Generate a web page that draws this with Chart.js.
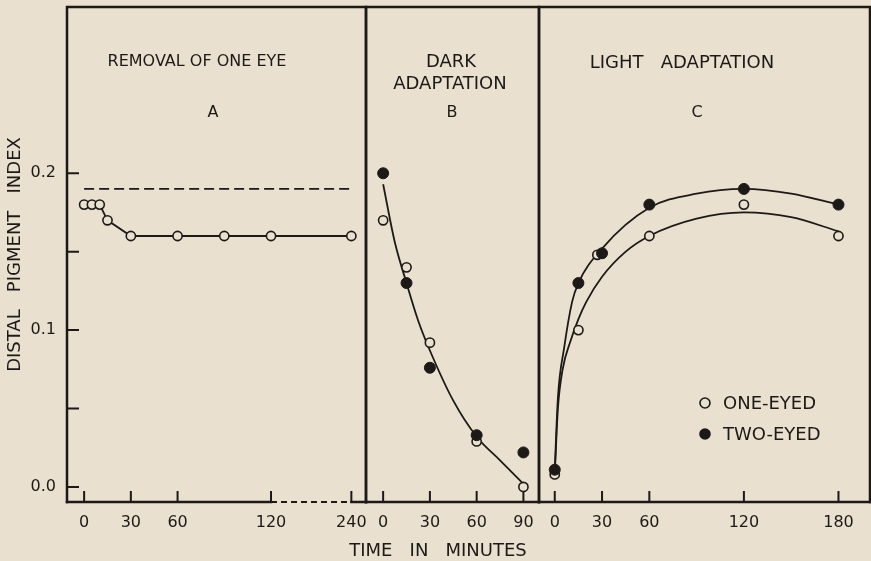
<!DOCTYPE html>
<html>
<head>
<meta charset="utf-8">
<script src="https://cdn.jsdelivr.net/npm/chart.js@4.4.0/dist/chart.umd.min.js"></script>
<style>
body { margin: 0; background: #e9e0cf; }
#wrap { position: relative; width: 871px; height: 561px; }
#wrap canvas { position: absolute; left: 0; top: 0; }
</style>
</head>
<body>
<div id="wrap">
  <canvas id="chartA" width="871" height="561"></canvas>
  <canvas id="chartB" width="871" height="561"></canvas>
  <canvas id="chartC" width="871" height="561"></canvas>
</div>
<script>
// panel A - removal of one eye (time axis is broken between 120 and 240)
var timeA = [0, 5, 10, 15, 30, 60, 90, 120, 240];
var oneEyedA = [0.18, 0.18, 0.18, 0.17, 0.16, 0.16, 0.16, 0.16, 0.16];
var normalTimeA = [0, 240];
var normalLevelA = [0.19, 0.19];
var xTicksA = [0, 30, 60, 120, 240];

// panel B - dark adaptation
var timeB = [0, 15, 30, 60, 90];
var oneEyedB = [0.17, 0.14, 0.092, 0.029, 0.0];
var twoEyedB = [0.2, 0.13, 0.076, 0.033, 0.022];
var curveTimeB = [0, 7.5, 15, 22.5, 30, 45, 60, 75, 90];
var curveB = [0.193, 0.156, 0.13, 0.106, 0.087, 0.055, 0.032, 0.017, 0.002];
var xTicksB = [0, 30, 60, 90];

// panel C - light adaptation
var timeOneC = [0, 15, 27, 60, 120, 180];
var oneEyedC = [0.008, 0.10, 0.148, 0.16, 0.18, 0.16];
var timeTwoC = [0, 15, 30, 60, 120, 180];
var twoEyedC = [0.011, 0.13, 0.149, 0.18, 0.19, 0.18];
var curveTimeOneC = [0, 2, 5, 10, 15, 20, 30, 45, 60, 90, 120, 150, 180];
var curveOneC = [0.008, 0.05, 0.075, 0.093, 0.107, 0.118, 0.134, 0.15, 0.16, 0.171, 0.175, 0.172, 0.163];
var curveTimeTwoC = [0, 2, 6, 11, 15, 30, 60, 90, 120, 150, 180];
var curveTwoC = [0.011, 0.057, 0.089, 0.118, 0.13, 0.152, 0.178, 0.187, 0.19, 0.187, 0.18];
var xTicksC = [0, 30, 60, 120, 180];

var yTicks = [0, 0.05, 0.1, 0.15, 0.2];
var yTickLabels = ['0.0', '', '0.1', '', '0.2'];
var legendLabels = ['ONE-EYED', 'TWO-EYED'];

var ink = '#1d1916';
var paper = '#e9e0cf';
var fam = '"DejaVu Sans", sans-serif';
Chart.defaults.font.family = fam;
Chart.defaults.color = ink;

function breakA(t) {
	// 120..240 squeezed after the break
	return t <= 120 ? t : 120 + (t - 120) * 0.43;
}
function pts(xs, ys, fx) {
	return xs.map(function(x, i){ return { x: fx ? fx(x) : x, y: ys[i] }; });
}

function xScale(min, max, ticks, map) {
	return {
		type: 'linear', min: min, max: max,
		afterFit: function(s){ s.height = 59; s.paddingLeft = 0; s.paddingRight = 0; },
		afterBuildTicks: function(s){
			s.ticks = ticks.map(function(v){ return { value: map ? map(v) : v }; });
		},
		grid: { display: false, drawTicks: false },
		border: { display: false },
		ticks: {
			padding: 11, autoSkip: false, maxRotation: 0, color: ink,
			font: { size: 16 },
			callback: function(v, i){ return String(ticks[i]); }
		}
	};
}
function yScale(show) {
	return {
		type: 'linear', min: -0.0096, max: 0.306, display: show,
		afterFit: function(s){ s.width = show ? 67 : 0; s.paddingTop = 0; s.paddingBottom = 0; },
		afterBuildTicks: function(s){
			s.ticks = yTicks.map(function(v){ return { value: v }; });
		},
		grid: { display: false, drawTicks: false },
		border: { display: false },
		ticks: {
			padding: 11, autoSkip: false, color: ink, font: { size: 16 },
			callback: function(v, i){ return yTickLabels[i]; }
		},
		title: {
			display: show, text: 'DISTAL   PIGMENT   INDEX', color: ink,
			font: { size: 18 }, padding: { top: 5, bottom: 0 }
		}
	};
}

// frame of each panel with inward tick marks
var framePlugin = {
	id: 'frame',
	afterDraw: function(chart, args, o) {
		var a = chart.chartArea, ctx = chart.ctx;
		var x = chart.scales.x, y = chart.scales.y;
		ctx.save();
		ctx.strokeStyle = ink;
		ctx.lineWidth = 2.5;
		ctx.lineCap = 'square';
		ctx.beginPath();
		ctx.moveTo(a.left, a.bottom); ctx.lineTo(a.left, a.top);
		ctx.lineTo(a.right, a.top); ctx.lineTo(a.right, a.bottom);
		ctx.stroke();
		var b1 = o.breakFrom != null ? x.getPixelForValue(breakA(o.breakFrom)) : a.right;
		var b2 = o.breakTo != null ? x.getPixelForValue(breakA(o.breakTo)) : a.right;
		ctx.beginPath();
		ctx.moveTo(a.left, a.bottom); ctx.lineTo(b1, a.bottom);
		ctx.moveTo(b2, a.bottom); ctx.lineTo(a.right, a.bottom);
		ctx.stroke();
		if (b2 > b1) {
			ctx.lineCap = 'butt';
			ctx.lineWidth = 2.2;
			ctx.setLineDash([6, 4]);
			ctx.beginPath(); ctx.moveTo(b1, a.bottom); ctx.lineTo(b2, a.bottom); ctx.stroke();
			ctx.setLineDash([]);
		}
		ctx.lineWidth = 2;
		ctx.lineCap = 'butt';
		ctx.beginPath();
		x.ticks.forEach(function(t){
			var px = x.getPixelForValue(t.value);
			ctx.moveTo(px, a.bottom); ctx.lineTo(px, a.bottom - 11);
		});
		if (o.yTicks) {
			y.ticks.forEach(function(t){
				var py = y.getPixelForValue(t.value);
				ctx.moveTo(a.left, py); ctx.lineTo(a.left + 12, py);
			});
		}
		ctx.stroke();
		ctx.restore();
	}
};

// panel headings, axis title and key
var notesPlugin = {
	id: 'notes',
	afterDraw: function(chart, args, o) {
		var ctx = chart.ctx;
		ctx.save();
		ctx.fillStyle = ink;
		ctx.textBaseline = 'middle';
		(o.items || []).forEach(function(it){
			ctx.font = it.size + 'px ' + fam;
			ctx.textAlign = it.align || 'center';
			ctx.fillText(it.text, it.x, it.y);
		});
		(o.keys || []).forEach(function(k, i){
			ctx.beginPath();
			ctx.arc(k.x, k.y, 5, 0, Math.PI * 2);
			ctx.lineWidth = 1.6;
			ctx.strokeStyle = ink;
			ctx.fillStyle = k.filled ? ink : paper;
			ctx.fill(); ctx.stroke();
			ctx.fillStyle = ink;
			ctx.font = '18px ' + fam;
			ctx.textAlign = 'left';
			ctx.fillText(legendLabels[i], k.x + 18, k.y + 1);
		});
		ctx.restore();
	}
};

function openPoints(data, line) {
	return {
		data: data, showLine: line, borderColor: ink, borderWidth: 1.8,
		pointRadius: 4.6, pointBorderWidth: 1.6,
		pointBorderColor: ink, pointBackgroundColor: paper
	};
}
function filledPoints(data) {
	return {
		data: data, showLine: false, borderColor: ink,
		pointRadius: 5.5, pointBorderWidth: 1,
		pointBorderColor: ink, pointBackgroundColor: ink
	};
}
function curve(data) {
	return {
		data: data, borderColor: ink, borderWidth: 1.8, pointRadius: 0,
		cubicInterpolationMode: 'monotone'
	};
}

function makeChart(id, pad, datasets, xs, showY, frameOpts, notes) {
	return new Chart(document.getElementById(id), {
		type: 'line',
		data: { datasets: datasets },
		options: {
			responsive: false, animation: false, events: [],
			layout: { padding: pad, autoPadding: false },
			scales: { x: xs, y: yScale(showY) },
			plugins: {
				legend: { display: false }, tooltip: { enabled: false },
				frame: frameOpts, notes: notes
			}
		},
		plugins: [framePlugin, notesPlugin]
	});
}

makeChart('chartA', { left: 0, top: 7, right: 505, bottom: 0 },
	[
		openPoints(pts(timeA, oneEyedA, breakA), true),
		Object.assign(curve(pts(normalTimeA, normalLevelA, breakA)), { borderDash: [10, 5] })
	],
	xScale(-11, 181, xTicksA, breakA), true,
	{ yTicks: true, breakFrom: 120, breakTo: 240 },
	{ items: [
		{ text: 'REMOVAL OF ONE EYE', x: 197, y: 62, size: 16 },
		{ text: 'A', x: 213, y: 113, size: 16 }
	] });

makeChart('chartB', { left: 366, top: 7, right: 332, bottom: 0 },
	[
		filledPoints(pts(timeB, twoEyedB)),
		openPoints(pts(timeB, oneEyedB), false),
		curve(pts(curveTimeB, curveB))
	],
	xScale(-11, 100, xTicksB), false,
	{ yTicks: false },
	{ items: [
		{ text: 'DARK', x: 451, y: 62, size: 18 },
		{ text: 'ADAPTATION', x: 450, y: 84, size: 18 },
		{ text: 'B', x: 452, y: 113, size: 16 },
		{ text: 'TIME   IN   MINUTES', x: 438, y: 551, size: 18 }
	] });

makeChart('chartC', { left: 539, top: 7, right: 1, bottom: 0 },
	[
		filledPoints(pts(timeTwoC, twoEyedC)),
		openPoints(pts(timeOneC, oneEyedC), false),
		curve(pts(curveTimeTwoC, curveTwoC)),
		curve(pts(curveTimeOneC, curveOneC))
	],
	xScale(-10, 200, xTicksC), false,
	{ yTicks: false },
	{ items: [
		{ text: 'LIGHT   ADAPTATION', x: 682, y: 63, size: 18 },
		{ text: 'C', x: 697, y: 113, size: 16 }
	],
	  keys: [ { x: 705, y: 403, filled: false }, { x: 705, y: 434, filled: true } ] });
</script>
</body>
</html>
